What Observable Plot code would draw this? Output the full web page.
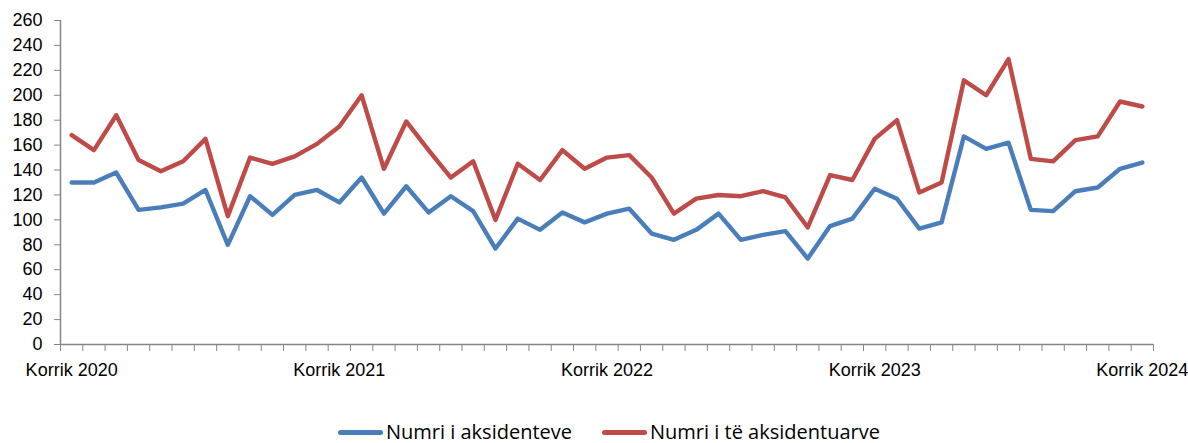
<!DOCTYPE html>
<html>
<head>
<meta charset="utf-8">
<script src="https://cdn.jsdelivr.net/npm/d3@7"></script>
<script src="https://cdn.jsdelivr.net/npm/@observablehq/plot@0.6"></script>
<style>
  html, body { margin: 0; padding: 0; background: #fff; overflow: hidden; }
  #wrap { position: relative; width: 1188px; height: 443px; }
  #legend { position: absolute; left: 338px; top: 421px; height: 22px; display: flex; align-items: center;
            font-family: "Open Sans", sans-serif; font-size: 20px; line-height: 22px; color: #000; white-space: nowrap; }
  .item { display: flex; align-items: center; height: 22px; }
  .item + .item { margin-left: 30px; }
  .swatch { width: 45px; height: 5px; border-radius: 2.5px; margin-right: 3px; }
</style>
</head>
<body>
<div id="wrap">
  <div id="chart"></div>
  <div id="legend"></div>
</div>
<script>
// Categories: monthly, Korrik 2020 .. Korrik 2024
const monthNames = ["Korrik","Gusht","Shtator","Tetor","Nëntor","Dhjetor","Janar","Shkurt","Mars","Prill","Maj","Qershor"];
const startYear = 2020;
const nPeriods = 49;
const periods = Array.from({length: nPeriods}, (_, i) => `${monthNames[i % 12]} ${startYear + Math.floor((i + 6) / 12)}`);

// Series values
const accidents = [130,130,138,108,110,113,124,80,119,104,120,124,
                   114,134,105,127,106,119,107,77,101,92,106,98,
                   105,109,89,84,92,105,84,88,91,69,95,101,
                   125,117,93,98,167,157,162,108,107,123,126,141,146];
const injured   = [168,156,184,148,139,147,165,103,150,145,151,161,
                   175,200,141,179,156,134,147,100,145,132,156,141,
                   150,152,134,105,117,120,119,123,118,94,136,132,
                   165,180,122,130,212,200,229,149,147,164,167,195,191];

// Tick labels
const xTickLabels = ["Korrik 2020","Korrik 2021","Korrik 2022","Korrik 2023","Korrik 2024"];
const yTicks = [0,20,40,60,80,100,120,140,160,180,200,220,240,260];

const seriesNames = ["Numri i aksidenteve", "Numri i të aksidentuarve"];
const seriesColors = ["#4a7ebb", "#be4b48"];

const rows = [];
periods.forEach((p, i) => {
  rows.push({i, period: p, series: seriesNames[0], value: accidents[i]});
});
periods.forEach((p, i) => {
  rows.push({i, period: p, series: seriesNames[1], value: injured[i]});
});

const labelIdx = xTickLabels.map(l => periods.indexOf(l));
const boundaries = d3.range(-0.5, nPeriods, 1);
const axisColor = "#868686";

const chart = Plot.plot({
  width: 1188,
  height: 390,
  marginLeft: 60,
  marginRight: 35,
  marginTop: 20,
  marginBottom: 46,
  style: {fontFamily: "'Liberation Sans', Arial, sans-serif", fontSize: "18px", color: "#000", background: "#fff"},
  x: {type: "linear", domain: [-0.5, nPeriods - 0.5]},
  y: {domain: [0, 260]},
  color: {domain: seriesNames, range: seriesColors},
  marks: [
    Plot.axisY({ticks: yTicks, tickSize: 6, tickPadding: 12, stroke: axisColor, label: null, tickFormat: d => d}),
    Plot.axisX({ticks: boundaries, tickSize: 7, stroke: axisColor, tickFormat: () => "", label: null}),
    Plot.axisX({ticks: labelIdx, tickSize: 0, tickPadding: 19, label: null, tickFormat: i => periods[i]}),
    Plot.ruleY([0], {stroke: axisColor, strokeWidth: 1.5}),
    Plot.ruleX([-0.5], {stroke: axisColor, strokeWidth: 1.5}),
    Plot.line(rows, {x: "i", y: "value", z: "series", stroke: "series", strokeWidth: 4.4, strokeLinejoin: "round", strokeLinecap: "round"})
  ]
});
document.getElementById("chart").appendChild(chart);

const legend = document.getElementById("legend");
seriesNames.forEach((name, k) => {
  const item = document.createElement("div");
  item.className = "item";
  const sw = document.createElement("span");
  sw.className = "swatch";
  sw.style.background = seriesColors[k];
  const tx = document.createElement("span");
  tx.textContent = name;
  item.appendChild(sw);
  item.appendChild(tx);
  legend.appendChild(item);
});
</script>
</body>
</html>
